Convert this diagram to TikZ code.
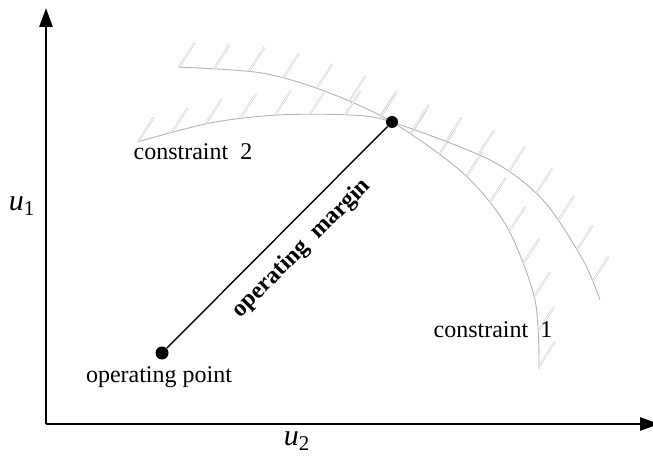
\documentclass[tikz,border=0pt]{standalone}
\usepackage{fontspec}
\setmainfont{Liberation Serif}
\usetikzlibrary{arrows.meta,decorations.markings,positioning}
\tikzset{
  axis/.style={line width=1.4pt, -{Triangle[length=9.5pt,width=6.5pt]}},
  limit/.style={draw=gray!60, line width=0.45pt},
  hatched/.style={postaction={decorate}, decoration={markings,
      mark=between positions 0.5pt and -0.5pt step 17.5pt with {\pgftransformresetnontranslations
        \draw[gray!55, line width=0.2pt, double=white, double distance=0.45pt] (0,0) -- (57:14.5pt);}}},
  dot/.style={circle, fill=black, inner sep=0pt, minimum size=6.5pt},
  lbl/.style={font=\fontsize{12}{14}\selectfont},
  axlbl/.style={font=\fontsize{15}{17}\selectfont},
}
\begin{document}
\begin{tikzpicture}[x=0.5pt,y=0.5pt]
    \useasboundingbox (0,0) rectangle (653,461);
    \coordinate (o) at (46,37);
    \coordinate (ytop) at (46,453);
    \coordinate (xend) at (659,37);
    \draw[axis] (o) -- (ytop);
    \draw[axis] (o) -- (xend);
    \node[axlbl] (u1) at (22,255) {\textit{u}\textsubscript{1}};
    \node[axlbl] (u2) at (297,20) {\textit{u}\textsubscript{2}};
    % constraint 1
    \draw[limit,hatched] plot[smooth] coordinates {(178,394) (262,388) (327,369) (392,339)
        (463,288) (507,234) (535,161) (539,92)};
    % constraint 2
    \draw[limit,hatched] plot[smooth] coordinates {(137,319) (210,338) (277,346) (350,346)
        (392,339) (490,301) (543,261) (583,201) (600,161)};
    \node[lbl] (c1) at (493,131) {constraint~~1};
    \node[lbl] (c2) at (193,309) {constraint~~2};
    \node[dot] (op) at (162,108) {};
    \node[dot, minimum size=6pt] (ip) at (392,339) {};
    \node[lbl, below=0pt of op.south, xshift=-1.5pt] (opl) {operating point};
    \draw[line width=0.7pt] (op) -- (ip)
        node[pos=0.53, sloped, below=3.5pt, font=\fontsize{12}{14}\selectfont\bfseries] (om) {operating~~margin};
\end{tikzpicture}
\end{document}
